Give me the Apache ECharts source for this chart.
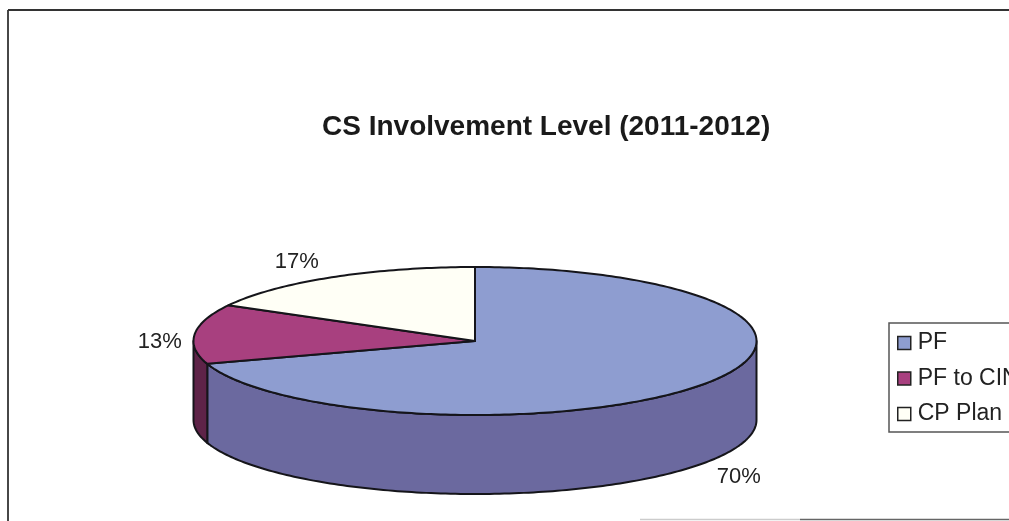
<!DOCTYPE html>
<html>
<head>
<meta charset="utf-8">
<style>html,body{margin:0;padding:0;background:#fff;overflow:hidden}#c{width:1009px;height:521px}</style>
<script src="https://cdn.jsdelivr.net/npm/echarts@6/dist/echarts.min.js"></script>
</head>
<body>
<div id="c"></div>
<script>
const chartTitle = 'CS Involvement Level (2011-2012)';
const categories = ['PF', 'PF to CIN', 'CP Plan'];
const shares = [70, 13, 17];

const topColors = ['#8e9dd0', '#a8407f', '#fffff6'];
const wallColors = ['#6b699f', '#5e2348'];
const labelOffsets = [[36, 92], [-35, 8], [-35, -15]];
const FONT = '"Liberation Sans", Arial, sans-serif';
const INK = '#15151a';
const pie = { cx: 475, cy: 341, rx: 281.5, ry: 74, depth: 79 };

const total = shares.reduce((a, b) => a + b, 0);
const starts = shares.map((_, i) => shares.slice(0, i).reduce((a, b) => a + b, 0) / total * 360);

function rim(deg, drop) {
  const t = deg * Math.PI / 180;
  return [pie.cx + pie.rx * Math.sin(t), pie.cy - pie.ry * Math.cos(t) + drop];
}
function arc(from, to, drop) {
  const pts = [];
  const n = Math.max(2, Math.ceil(Math.abs(to - from)));
  for (let i = 0; i <= n; i++) pts.push(rim(from + (to - from) * i / n, drop));
  return pts;
}
function renderSlice(params, api) {
  const i = params.seriesIndex;
  const a0 = starts[i];
  const a1 = a0 + api.value(0) / total * 360;
  const children = [];
  const style = { stroke: INK, lineWidth: 2, lineJoin: 'round' };
  const w0 = Math.max(a0, 90), w1 = Math.min(a1, 270);
  if (w1 > w0) {
    children.push({
      type: 'polygon',
      shape: { points: arc(w0, w1, 0).concat(arc(w1, w0, pie.depth)) },
      style: Object.assign({ fill: wallColors[i] }, style)
    });
  }
  children.push({
    type: 'polygon',
    shape: { points: [[pie.cx, pie.cy]].concat(arc(a0, a1, 0)) },
    style: Object.assign({ fill: topColors[i] }, style)
  });
  const mid = rim((a0 + a1) / 2, 0);
  children.push({
    type: 'text',
    x: mid[0] + labelOffsets[i][0],
    y: mid[1] + labelOffsets[i][1],
    style: {
      text: Math.round(api.value(0) / total * 100) + '%',
      fill: '#222', font: '22px ' + FONT, align: 'center', verticalAlign: 'middle'
    }
  });
  return { type: 'group', children };
}

const chart = echarts.init(document.getElementById('c'), null, { renderer: 'canvas' });
chart.setOption({
  animation: false,
  backgroundColor: '#fff',
  title: {
    text: chartTitle, left: 322, top: 113, padding: 0,
    textStyle: { fontFamily: FONT, fontSize: 28, fontWeight: 'bold', color: '#1a1a1a' }
  },
  legend: {
    orient: 'vertical', left: 889, top: 323, width: 170,
    data: categories, icon: 'rect', itemWidth: 13, itemHeight: 13, itemGap: 12.5,
    itemStyle: { borderColor: '#222', borderWidth: 1.5 },
    padding: [8.5, 60, 6.5, 8],
    borderColor: '#555', borderWidth: 1.5, selectedMode: false,
    textStyle: { fontFamily: FONT, fontSize: 23, color: '#222', padding: [0, 0, 0, 2] }
  },
  series: categories.map((name, i) => ({
    type: 'custom', name, coordinateSystem: 'none', silent: true,
    itemStyle: { color: topColors[i] },
    data: [[shares[i]]],
    renderItem: renderSlice
  })),
  graphic: [
    { type: 'line', shape: { x1: 8, y1: 10, x2: 8, y2: 521 }, style: { stroke: '#333', lineWidth: 1.8 } },
    { type: 'line', shape: { x1: 8, y1: 10, x2: 1009, y2: 10 }, style: { stroke: '#333', lineWidth: 1.8 } },
    { type: 'line', shape: { x1: 640, y1: 519.5, x2: 800, y2: 519.5 }, style: { stroke: '#ccc', lineWidth: 1.5 } },
    { type: 'line', shape: { x1: 800, y1: 519.5, x2: 1009, y2: 519.5 }, style: { stroke: '#666', lineWidth: 1.5 } }
  ]
});
</script>
</body>
</html>
